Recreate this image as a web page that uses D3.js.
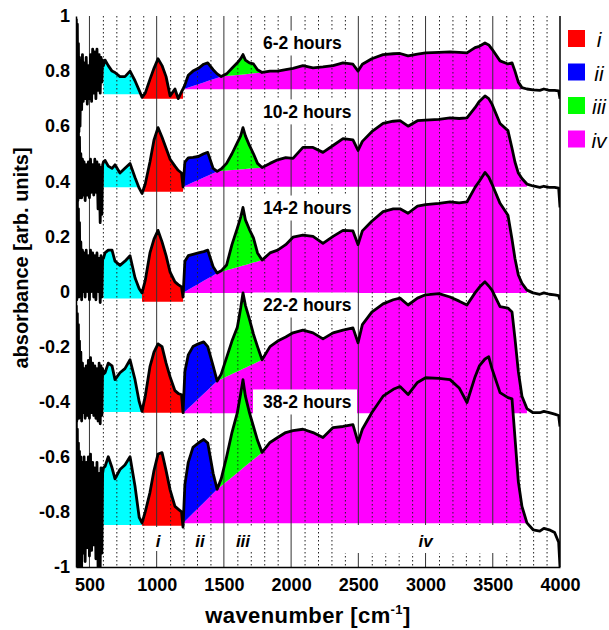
<!DOCTYPE html>
<html><head><meta charset="utf-8">
<script src="https://cdn.jsdelivr.net/npm/d3@7"></script>
<style>body{margin:0;background:#fff}svg{display:block}</style>
</head><body>
<svg id="c" width="609" height="630"></svg>
<script>
// ---------------- DATA ----------------
const wavenumbers = [402,406,410,414,418,422,426,430,436,442,448,454,460,468,476,484,
  492,500,508,516,524,532,540,548,556,564,572,580,586,592,598,604,
  616,640,668,690,727,764,802,839,870,891,
  915,950,980,1010,1040,1070,1100,1136,1160,1185,
  1196,1210,1235,1270,1310,1350,1380,1420,1450,1480,
  1520,1560,1600,1625,1642,1660,1690,1720,1750,1784,
  1843,1900,1960,2014,2088,2163,2237,2312,2386,2460,
  2498,2530,2600,2684,2760,2810,2870,2940,3000,3100,
  3182,3250,3308,3368,3400,3442,3470,3494,3554,3613,
  3643,3665,3690,3717,3754,3800,3850,3880,3920,3960,
  3990,4000];

const seriesNames = ["6-2 hours","10-2 hours","14-2 hours","22-2 hours","38-2 hours"];

const abs6 = [0.99,0.70,0.97,0.62,0.90,0.58,0.85,0.60,0.84,0.66,0.86,0.69,0.83,0.70,0.85,0.68,
  0.82,0.70,0.86,0.69,0.88,0.72,0.87,0.70,0.88,0.73,0.86,0.72,0.85,0.76,0.84,0.82,
  0.84,0.82,0.80,0.795,0.78,0.78,0.80,0.765,0.73,0.705,
  0.72,0.77,0.81,0.845,0.82,0.78,0.71,0.735,0.70,0.725,
  0.735,0.75,0.785,0.80,0.81,0.825,0.83,0.805,0.79,0.78,
  0.79,0.81,0.83,0.845,0.86,0.84,0.83,0.826,0.805,0.795,
  0.80,0.80,0.805,0.81,0.82,0.812,0.815,0.82,0.83,0.825,
  0.80,0.825,0.845,0.86,0.863,0.864,0.855,0.862,0.866,0.868,
  0.87,0.868,0.866,0.885,0.89,0.902,0.895,0.88,0.837,0.826,
  0.83,0.80,0.76,0.74,0.735,0.732,0.73,0.735,0.73,0.73,
  0.728,0.70];

const abs10 = [0.68,0.30,0.64,0.33,0.60,0.36,0.56,0.34,0.50,0.34,0.48,0.35,0.47,0.33,0.46,0.35,
  0.47,0.34,0.48,0.36,0.46,0.35,0.48,0.36,0.47,0.30,0.46,0.25,0.45,0.28,0.46,0.47,
  0.476,0.455,0.447,0.46,0.43,0.447,0.465,0.414,0.375,0.356,
  0.39,0.47,0.55,0.595,0.56,0.52,0.48,0.455,0.44,0.43,
  0.38,0.47,0.485,0.487,0.49,0.50,0.505,0.447,0.436,0.445,
  0.465,0.50,0.54,0.565,0.595,0.565,0.53,0.50,0.465,0.45,
  0.465,0.478,0.486,0.483,0.523,0.523,0.505,0.53,0.555,0.55,
  0.512,0.545,0.58,0.61,0.618,0.62,0.60,0.62,0.622,0.625,
  0.63,0.628,0.63,0.667,0.69,0.71,0.70,0.68,0.61,0.584,
  0.52,0.47,0.43,0.41,0.39,0.383,0.378,0.382,0.378,0.378,
  0.375,0.305];

const abs14 = [0.37,-0.03,0.33,0.0,0.30,-0.02,0.25,0.0,0.18,-0.03,0.15,0.0,0.14,-0.02,0.15,0.0,
  0.13,-0.03,0.15,0.0,0.14,-0.02,0.13,-0.03,0.14,0.0,0.12,-0.04,0.13,-0.02,0.12,0.12,
  0.14,0.15,0.15,0.11,0.095,0.11,0.13,0.05,0.01,-0.005,
  0.04,0.14,0.19,0.222,0.18,0.13,0.07,0.035,0.025,0.017,
  -0.02,0.11,0.13,0.135,0.14,0.145,0.15,0.09,0.067,0.075,
  0.096,0.17,0.23,0.27,0.305,0.26,0.225,0.195,0.14,0.114,
  0.14,0.15,0.17,0.197,0.205,0.20,0.175,0.20,0.222,0.22,
  0.17,0.22,0.255,0.29,0.30,0.30,0.284,0.31,0.315,0.32,
  0.325,0.322,0.325,0.378,0.40,0.432,0.415,0.39,0.32,0.277,
  0.19,0.12,0.06,0.03,0.005,-0.005,-0.01,-0.005,-0.01,-0.012,
  -0.015,-0.03];

const abs22 = [-0.05,-0.47,-0.08,-0.45,-0.12,-0.46,-0.18,-0.44,-0.22,-0.47,-0.26,-0.44,-0.28,-0.46,-0.27,-0.45,
  -0.25,-0.46,-0.24,-0.44,-0.26,-0.45,-0.27,-0.46,-0.28,-0.47,-0.26,-0.48,-0.27,-0.45,-0.28,-0.30,
  -0.295,-0.26,-0.27,-0.32,-0.295,-0.28,-0.248,-0.32,-0.40,-0.435,
  -0.38,-0.273,-0.22,-0.19,-0.20,-0.26,-0.31,-0.36,-0.37,-0.375,
  -0.44,-0.29,-0.23,-0.20,-0.19,-0.183,-0.20,-0.27,-0.325,-0.30,
  -0.24,-0.18,-0.13,-0.06,-0.005,-0.05,-0.10,-0.155,-0.20,-0.248,
  -0.20,-0.18,-0.165,-0.15,-0.14,-0.15,-0.172,-0.15,-0.14,-0.132,
  -0.186,-0.12,-0.075,-0.045,-0.03,-0.024,-0.049,-0.024,-0.012,-0.008,
  -0.02,-0.035,-0.049,-0.005,0.015,0.035,0.02,0.005,-0.055,-0.06,
  -0.074,-0.17,-0.29,-0.38,-0.425,-0.44,-0.44,-0.435,-0.44,-0.445,
  -0.45,-0.49];

const abs38 = [-0.46,-1.0,-0.50,-0.98,-0.55,-1.0,-0.58,-0.97,-0.60,-1.0,-0.62,-0.95,-0.60,-0.98,-0.62,-0.93,
  -0.60,-0.96,-0.59,-0.94,-0.62,-0.92,-0.64,-0.97,-0.62,-1.0,-0.66,-1.0,-0.64,-0.95,-0.66,-0.64,
  -0.635,-0.60,-0.64,-0.68,-0.646,-0.63,-0.60,-0.707,-0.82,-0.84,
  -0.80,-0.73,-0.65,-0.59,-0.585,-0.65,-0.72,-0.78,-0.79,-0.80,
  -0.855,-0.70,-0.62,-0.566,-0.55,-0.537,-0.55,-0.66,-0.718,-0.68,
  -0.60,-0.512,-0.44,-0.37,-0.32,-0.38,-0.44,-0.49,-0.54,-0.584,
  -0.548,-0.53,-0.512,-0.505,-0.50,-0.512,-0.53,-0.494,-0.49,-0.483,
  -0.548,-0.50,-0.44,-0.38,-0.355,-0.345,-0.374,-0.33,-0.313,-0.315,
  -0.32,-0.35,-0.403,-0.31,-0.27,-0.245,-0.237,-0.28,-0.367,-0.385,
  -0.39,-0.53,-0.69,-0.78,-0.84,-0.865,-0.87,-0.86,-0.865,-0.875,
  -0.91,-1.0];

// band baselines / limits (absorbance and wavenumber values)
const cyanBase = [0.716, 0.378, -0.025, -0.437, -0.848];
const redBase  = [0.700, 0.362, -0.037, -0.440, -0.850];
const magBase  = [0.734, 0.380, -0.005, -0.442, -0.841];
const splitWn  = [1480, 1450, 1450, 1450, 1450];
const magEnd   = [3717, 3777, 3754, 3754, 3754];
const cyanRange = [604, 891];
const redRange  = [891, 1196];
const bandRange = [1196, 1784];

const bandNames = ["i","ii","iii","iv"];
const bandColors = ["#ff0000","#0000ff","#00ff00","#ff00ff"];
const bandLabelWn = [1010, 1322, 1642, 3000];

const xTickValues = [500,1000,1500,2000,2500,3000,3500,4000];
const yTickValues = [1,0.8,0.6,0.4,0.2,0,-0.2,-0.4,-0.6,-0.8,-1];
const yTickLabels = ["1","0.8","0.6","0.4","0.2","0","-0.2","-0.4","-0.6","-0.8","-1"];

// ---------------- LAYOUT ----------------
const FONT = "Arial, 'Liberation Sans', Helvetica, sans-serif";
const L = 76, R = 560, T = 16, B = 567;
const svg = d3.select("#c");
const x = d3.scaleLinear().domain([400,4000]).range([L,R]);
const y = d3.scaleLinear().domain([-1,1]).range([B,T]);
const labelAbs = [0.902, 0.652, 0.303, -0.049, -0.401]; // vertical position of series labels

svg.append("defs").append("clipPath").attr("id","clip")
  .append("rect").attr("x",L).attr("y",T-4).attr("width",R-L).attr("height",B-T+4);

const plot = svg.append("g").attr("clip-path","url(#clip)");
const fills = plot.append("g");
const grid = plot.append("g");
const boxes = plot.append("g");
const lines = plot.append("g");

const series = [abs6, abs10, abs14, abs22, abs38];

series.forEach((vals, i) => {
  const pts = wavenumbers.map((w,j)=>({w, v: vals[j]}));
  const vAt = w => pts.find(p=>p.w===w).v;
  const inR = (a,b) => pts.filter(p=>p.w>=a && p.w<=b);
  const guide = d3.scaleLinear()
    .domain([bandRange[0], splitWn[i], bandRange[1]])
    .range([magBase[i], vAt(splitWn[i]), vAt(bandRange[1])]);

  fills.append("path").datum(inR(cyanRange[0], cyanRange[1]))
    .attr("fill","#00ffff")
    .attr("d", d3.area().x(p=>x(p.w)).y0(y(cyanBase[i])).y1(p=>y(Math.max(p.v, cyanBase[i]))));
  fills.append("path").datum(inR(redRange[0], redRange[1]))
    .attr("fill", bandColors[0])
    .attr("d", d3.area().x(p=>x(p.w)).y0(y(redBase[i])).y1(p=>y(Math.max(p.v, redBase[i]))));
  fills.append("path").datum(inR(bandRange[0], magEnd[i]))
    .attr("fill", bandColors[3])
    .attr("d", d3.area().x(p=>x(p.w)).y0(y(magBase[i]))
      .y1(p=>{ const t = p.w<=bandRange[1] ? Math.min(p.v, guide(p.w)) : p.v; return y(Math.max(t, magBase[i])); }));
  fills.append("path").datum(inR(bandRange[0], splitWn[i]))
    .attr("fill", bandColors[1])
    .attr("d", d3.area().x(p=>x(p.w)).y0(p=>y(guide(p.w))).y1(p=>y(Math.max(p.v, guide(p.w)))));
  fills.append("path").datum(inR(splitWn[i], bandRange[1]))
    .attr("fill", bandColors[2])
    .attr("d", d3.area().x(p=>x(p.w)).y0(p=>y(guide(p.w))).y1(p=>y(Math.max(p.v, guide(p.w)))));

  lines.append("path").datum(pts)
    .attr("fill","none").attr("stroke","#000").attr("stroke-width",2.8)
    .attr("stroke-linejoin","round")
    .attr("d", d3.line().x(p=>x(p.w)).y(p=>y(p.v)));
});

// grid lines
const minor = d3.range(500, 4000, 100).filter(w => w % 500 !== 0);
grid.selectAll("line.minor").data(minor).join("line")
  .attr("x1",d=>x(d)+0.5).attr("x2",d=>x(d)+0.5).attr("y1",T).attr("y2",B)
  .attr("stroke","#222").attr("stroke-width",1).attr("stroke-dasharray","1.5,2.5");
grid.selectAll("line.major").data(xTickValues.filter(d=>d<4000)).join("line")
  .attr("x1",d=>x(d)).attr("x2",d=>x(d)).attr("y1",T).attr("y2",B)
  .attr("stroke","#333").attr("stroke-width",1);

// series labels with white boxes
seriesNames.forEach((name,i)=>{
  const cy = y(labelAbs[i]);
  boxes.append("rect").attr("x",253).attr("y",cy-12.5).attr("width",104).attr("height",25).attr("fill","#fff");
  boxes.append("text").attr("x",263).attr("y",cy).attr("dy","0.36em")
    .attr("font-family",FONT).attr("font-weight","bold").attr("font-size",17.5)
    .text(name);
});

// band labels under bottom spectrum
const bandLabelY = 547;
boxes.append("rect").attr("x",333).attr("y",525).attr("width",185).attr("height",28).attr("fill","#fff");
bandNames.forEach((b,k)=>{
  const cx = x(bandLabelWn[k]);
  if (k<3) boxes.append("rect").attr("x",cx-7-3*k).attr("y",527).attr("width",14+6*k).attr("height",24).attr("fill","#fff");
  boxes.append("text").attr("x",cx).attr("y",bandLabelY).attr("text-anchor","middle")
    .attr("font-family",FONT).attr("font-weight","bold").attr("font-style","italic").attr("font-size",17)
    .text(b);
});

// axes
const xAxis = d3.axisBottom(x).tickValues(xTickValues).tickSize(0).tickSizeOuter(0).tickPadding(11)
  .tickFormat(d=>String(d));
const gx = svg.append("g").attr("transform",`translate(0,${B})`).call(xAxis);
gx.select(".domain").attr("stroke","#000").attr("stroke-width",1.5);
gx.selectAll("text").attr("font-family",FONT).attr("font-weight","bold").attr("font-size",18).attr("fill","#000");

const yAxis = d3.axisLeft(y).tickValues(yTickValues).tickSize(0).tickSizeOuter(0).tickPadding(6)
  .tickFormat((d,k)=>yTickLabels[k]);
const gy = svg.append("g").attr("transform",`translate(${L},0)`).call(yAxis);
gy.select(".domain").attr("stroke","#000").attr("stroke-width",1.5);
gy.selectAll("text").attr("font-family",FONT).attr("font-weight","bold").attr("font-size",18).attr("fill","#000");

svg.append("line").attr("x1",R).attr("x2",R).attr("y1",T).attr("y2",B).attr("stroke","#000").attr("stroke-width",1.5);

// axis titles
const xt = svg.append("text").attr("x",308).attr("y",623).attr("text-anchor","middle")
  .attr("font-family",FONT).attr("font-weight","bold").attr("font-size",22).attr("letter-spacing","0.4px");
xt.append("tspan").text("wavenumber [cm");
xt.append("tspan").attr("dy",-9).attr("font-size",13).text("-1");
xt.append("tspan").attr("dy",9).text("]");

svg.append("text").attr("transform","translate(21,258) rotate(-90)")
  .attr("text-anchor","middle").attr("dy","0.35em")
  .attr("font-family",FONT).attr("font-weight","bold").attr("font-size",20)
  .text("absorbance [arb. units]");

// legend
const lg = svg.append("g");
bandNames.forEach((b,k)=>{
  const top = 30 + k*33.5;
  lg.append("rect").attr("x",568).attr("y",top).attr("width",17).attr("height",17).attr("fill",bandColors[k]);
  lg.append("text").attr("x",599).attr("y",top+17).attr("text-anchor","middle")
    .attr("font-family",FONT).attr("font-style","italic").attr("font-size",21).text(b);
});
</script>
</body></html>
